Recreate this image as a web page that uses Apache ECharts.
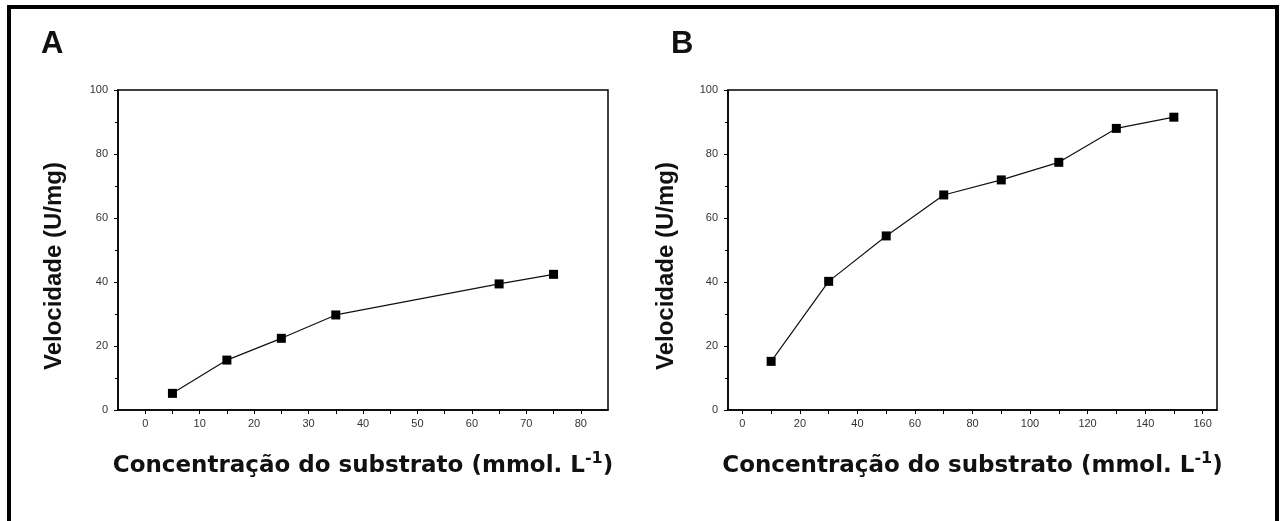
<!DOCTYPE html>
<html>
<head>
<meta charset="utf-8">
<script src="https://cdn.jsdelivr.net/npm/echarts@6/dist/echarts.min.js"></script>
<style>
  html, body { margin: 0; padding: 0; background: #fff; }
  #main { width: 1283px; height: 521px; }
</style>
</head>
<body>
<div id="main"></div>
<script>
// panel A
var concA = [5, 15, 25, 35, 65, 75];
var velA = [5.2, 15.6, 22.4, 29.7, 39.4, 42.4];
// panel B
var concB = [10, 30, 50, 70, 90, 110, 130, 150];
var velB = [15.2, 40.2, 54.4, 67.2, 71.9, 77.4, 88.0, 91.5];

var xTicksA = [0, 5, 10, 15, 20, 25, 30, 35, 40, 45, 50, 55, 60, 65, 70, 75, 80];
var xLabelsA = [0, 10, 20, 30, 40, 50, 60, 70, 80];
var xTicksB = [0, 10, 20, 30, 40, 50, 60, 70, 80, 90, 100, 110, 120, 130, 140, 150, 160];
var xLabelsB = [0, 20, 40, 60, 80, 100, 120, 140, 160];

var font = 'Liberation Sans, Arial, sans-serif';
var xName = 'Concentração do substrato (mmol. L{sup|-1})';
var yName = 'Velocidade (U/mg)';

function xAxis(gridIndex, max, ticks, labels) {
  return {
    type: 'value',
    gridIndex: gridIndex,
    min: -5,
    max: max,
    name: xName,
    nameLocation: 'middle',
    nameGap: 41,
    nameTextStyle: {
      fontFamily: 'DejaVu Sans, sans-serif',
      fontSize: 23,
      fontWeight: 'bold',
      color: '#111',
      rich: {
        sup: { fontFamily: 'DejaVu Sans, sans-serif', fontSize: 16, fontWeight: 'bold', color: '#111', verticalAlign: 'top', padding: [0, 0, 14, 0] }
      }
    },
    axisLine: { onZero: false, lineStyle: { color: '#000', width: 1.5 } },
    axisTick: { inside: false, length: 4, customValues: ticks, lineStyle: { color: '#000', width: 1 } },
    axisLabel: { customValues: labels, margin: 8, fontFamily: font, fontSize: 11, color: '#333' },
    splitLine: { show: false }
  };
}

function yAxis(gridIndex, gap) {
  return {
    type: 'value',
    gridIndex: gridIndex,
    min: 0,
    max: 100,
    interval: 20,
    name: yName,
    nameLocation: 'middle',
    nameGap: gap,
    nameTextStyle: { fontFamily: font, fontSize: 24, fontWeight: 'bold', color: '#111', padding: [0, 32, 0, 0] },
    axisLine: { show: true, onZero: false, lineStyle: { color: '#000', width: 1.5 } },
    axisTick: { show: true, inside: false, length: 4, lineStyle: { color: '#000', width: 1 } },
    minorTick: { show: true, splitNumber: 2, length: 3, lineStyle: { color: '#000', width: 1 } },
    axisLabel: { margin: 10, fontFamily: font, fontSize: 11, color: '#333' },
    splitLine: { show: false }
  };
}

function lineSeries(idx, xs, ys) {
  return {
    type: 'line',
    xAxisIndex: idx,
    yAxisIndex: idx,
    data: xs.map(function (x, i) { return [x, ys[i]]; }),
    symbol: 'rect',
    symbolSize: 9,
    itemStyle: { color: '#000' },
    lineStyle: { color: '#111', width: 1.2 },
    animation: false
  };
}

var chart = echarts.init(document.getElementById('main'));
chart.setOption({
  backgroundColor: '#fff',
  animation: false,
  title: [
    { text: 'A', left: 36, top: 24, textStyle: { fontFamily: font, fontSize: 31, fontWeight: 'bold', color: '#111' } },
    { text: 'B', left: 666, top: 24, textStyle: { fontFamily: font, fontSize: 31, fontWeight: 'bold', color: '#111' } }
  ],
  graphic: [{
    type: 'rect',
    shape: { x: 9, y: 7, width: 1268, height: 600 },
    style: { fill: 'none', stroke: '#000', lineWidth: 4 },
    silent: true
  }],
  grid: [
    { left: 118, top: 90, width: 490, height: 320, show: true, borderColor: '#000', borderWidth: 1.5 },
    { left: 728, top: 90, width: 489, height: 320, show: true, borderColor: '#000', borderWidth: 1.5 }
  ],
  xAxis: [
    xAxis(0, 85, xTicksA, xLabelsA),
    xAxis(1, 165, xTicksB, xLabelsB)
  ],
  yAxis: [
    yAxis(0, 52),
    yAxis(1, 50)
  ],
  series: [
    lineSeries(0, concA, velA),
    lineSeries(1, concB, velB)
  ]
});
</script>
</body>
</html>
